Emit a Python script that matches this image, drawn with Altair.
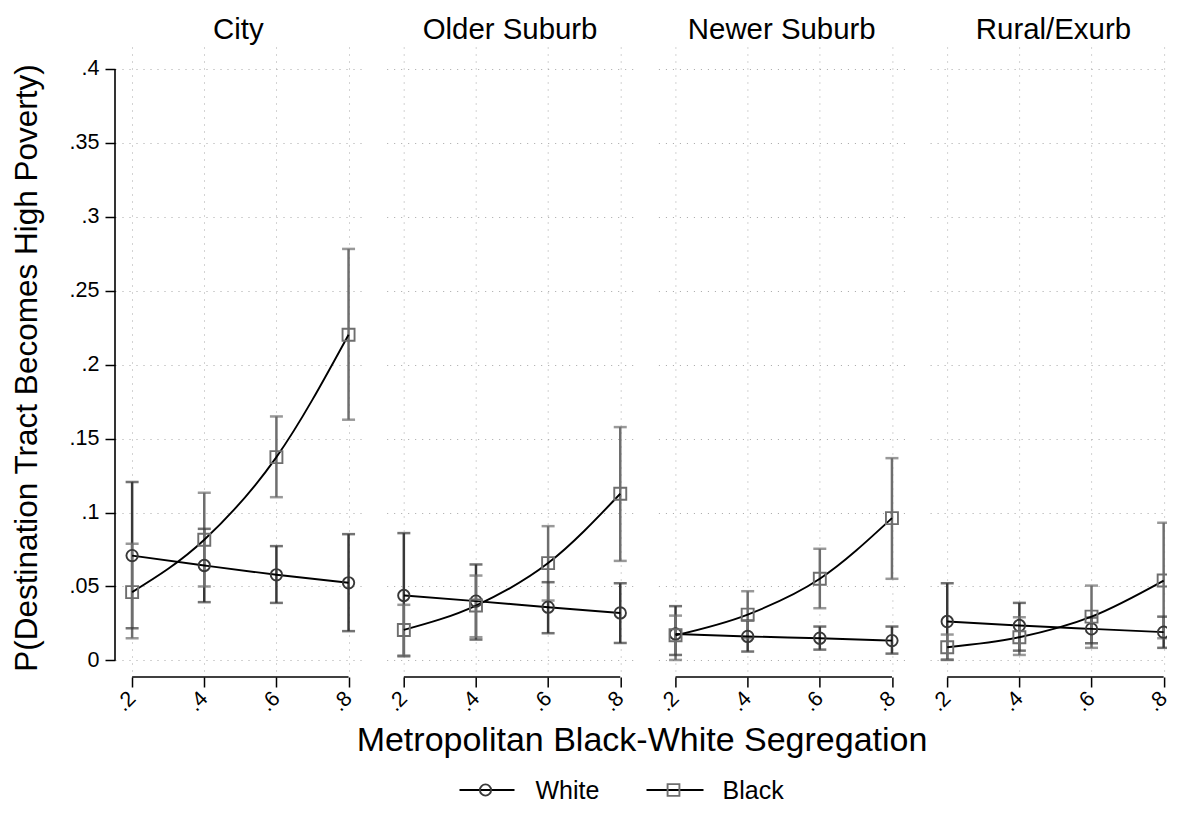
import altair as alt
import pandas as pd

categories = ["City", "Older Suburb", "Newer Suburb", "Rural/Exurb"]
segregation = [0.2, 0.4, 0.6, 0.8]
groups = ["White", "Black"]

white_est = [
    [0.0709, 0.0642, 0.0579, 0.0525],
    [0.0439, 0.0401, 0.0360, 0.0321],
    [0.0179, 0.0162, 0.0150, 0.0134],
    [0.0263, 0.0236, 0.0213, 0.0191],
]
white_lo = [
    [0.0218, 0.0394, 0.0389, 0.0198],
    [0.0028, 0.0141, 0.0184, 0.0118],
    [0.0037, 0.0060, 0.0073, 0.0046],
    [0.0005, 0.0066, 0.0116, 0.0085],
]
white_hi = [
    [0.1206, 0.0890, 0.0773, 0.0854],
    [0.0861, 0.0649, 0.0529, 0.0522],
    [0.0367, 0.0270, 0.0229, 0.0229],
    [0.0522, 0.0389, 0.0290, 0.0296],
]
black_est = [
    [0.0462, 0.0816, 0.1375, 0.2203],
    [0.0206, 0.0371, 0.0658, 0.1127],
    [0.0170, 0.0310, 0.0552, 0.0962],
    [0.0089, 0.0157, 0.0296, 0.0540],
]
black_lo = [
    [0.0150, 0.0500, 0.1104, 0.1628],
    [0.0033, 0.0157, 0.0405, 0.0673],
    [0.0003, 0.0150, 0.0353, 0.0552],
    [0.0003, 0.0037, 0.0085, 0.0150],
]
black_hi = [
    [0.0789, 0.1134, 0.1650, 0.2783],
    [0.0376, 0.0574, 0.0908, 0.1578],
    [0.0303, 0.0468, 0.0755, 0.1368],
    [0.0175, 0.0292, 0.0506, 0.0931],
]
y_ticks = [0, 0.05, 0.1, 0.15, 0.2, 0.25, 0.3, 0.35, 0.4]
x_ticks = [0.2, 0.4, 0.6, 0.8]
y_title = "P(Destination Tract Becomes High Poverty)"
x_title = "Metropolitan Black-White Segregation"

FONT = "Liberation Sans"
PX = 360.7
Y_DOM = [-0.01122, 0.41487]
H = 630
XL, XR, XR_LAST = 0.1525, 0.8365, 0.8139
LABEL_EXPR = "datum.value == 0 ? '0' : substring(format(datum.value, '.2~f'), 1)"
GRID = dict(grid=True, gridColor="#a6a6a6", gridDash=[1, 6], gridWidth=1)
COLORS = ["#383838", "#6e6e6e"]
TICK_FS = 21.5

rows = []
for ci, cat in enumerate(categories):
    for g, est, lo, hi in (("White", white_est, white_lo, white_hi),
                           ("Black", black_est, black_lo, black_hi)):
        for xi, s in enumerate(segregation):
            rows.append(dict(category=cat, group=g, seg=s,
                             est=est[ci][xi], lo=lo[ci][xi], hi=hi[ci][xi]))
df = pd.DataFrame(rows)

color = alt.Color("group:N", scale=alt.Scale(domain=groups, range=COLORS), legend=None)


def legend_layers():
    # shared x-axis title and legend, positioned relative to the first panel's plot origin
    out = []
    one = pd.DataFrame({"t": [x_title]})
    out.append(alt.Chart(one).mark_text(font=FONT, fontSize=34, align="center",
                                        baseline="alphabetic", color="black").encode(
        text="t:N", x=alt.value(527), y=alt.value(704)))
    specs = [(groups[0], "circle", 125, COLORS[0], 344.5, 399.5, 370.5, 420.5),
             (groups[1], "square", 140, COLORS[1], 531.5, 588.5, 558.5, 607.5)]
    for label, shp, sz, col, x1, x2, xm, xt in specs:
        d = pd.DataFrame({"label": [label]})
        out.append(alt.Chart(d).mark_rule(color="black", strokeWidth=1.9).encode(
            x=alt.value(x1), x2=alt.value(x2), y=alt.value(743)))
        out.append(alt.Chart(d).mark_point(shape=shp, filled=False, size=sz, color=col,
                                           strokeWidth=1.9, opacity=1).encode(
            x=alt.value(xm), y=alt.value(743)))
        out.append(alt.Chart(d).mark_text(font=FONT, fontSize=25, align="left",
                                          baseline="alphabetic", color="black").encode(
            text="label:N", x=alt.value(xt), y=alt.value(752)))
    return out


def panel(ci):
    first = ci == 0
    last = ci == len(categories) - 1
    xdom = [XL, XR_LAST if last else XR]
    width = (xdom[1] - xdom[0]) * PX
    xscale = alt.Scale(domain=xdom, nice=False, zero=False)
    yscale = alt.Scale(domain=Y_DOM, nice=False, zero=False)
    xaxis = alt.Axis(values=x_ticks, domain=False, ticks=True, tickSize=10,
                     tickWidth=1.5, tickColor="black", labelAngle=315,
                     labelAlign="right", labelBaseline="middle", labelPadding=8,
                     labelFontSize=TICK_FS, labelFont=FONT, labelColor="black",
                     labelExpr=LABEL_EXPR, labelFlush=False, labelOverlap=False,
                     title=None, **GRID)
    if first:
        yaxis = alt.Axis(values=y_ticks, domain=False, ticks=True, tickSize=10,
                         tickWidth=1.5, tickColor="black", labelFontSize=TICK_FS,
                         labelFont=FONT, labelColor="black", labelPadding=6,
                         labelExpr=LABEL_EXPR, labelFlush=False, labelOverlap=False,
                         title=y_title, titleFont=FONT, titleFontSize=31.5,
                         titleFontWeight="normal", titleColor="black",
                         titleX=-79, titleY=320.5, titleAngle=270,
                         titleAlign="center", titleBaseline="alphabetic", **GRID)
    else:
        yaxis = alt.Axis(values=y_ticks, domain=False, ticks=False, labels=False,
                         title=None, **GRID)

    def X(f):
        return alt.X(f, type="quantitative", scale=xscale, axis=xaxis)

    def Y(f):
        return alt.Y(f, type="quantitative", scale=yscale, axis=yaxis)

    base = alt.Chart(df).transform_filter(alt.datum.category == categories[ci])
    bars = base.mark_rule(strokeWidth=2.5).encode(x=X("seg"), y=Y("lo"), y2="hi", color=color)
    caps = base.transform_fold(["lo", "hi"], as_=["end", "val"]).mark_tick(
        orient="horizontal", size=13, thickness=2.5).encode(x=X("seg"), y=Y("val"), color=color)
    lines = base.mark_line(color="black", strokeWidth=1.9, interpolate="monotone").encode(
        x=X("seg"), y=Y("est"), detail="group:N")
    points = base.mark_point(filled=False, strokeWidth=1.9, opacity=1).encode(
        x=X("seg"), y=Y("est"), color=color,
        shape=alt.Shape("group:N", scale=alt.Scale(domain=groups, range=["circle", "square"]), legend=None),
        size=alt.Size("group:N", scale=alt.Scale(domain=groups, range=[130, 144]), legend=None))
    xline = alt.Chart(pd.DataFrame({"a": [x_ticks[0]], "b": [x_ticks[-1]]})).mark_rule(
        color="black", strokeWidth=1.6).encode(x=X("a"), x2="b", y=alt.value(H))
    head_x = (XR - XL) * PX / 2
    head = alt.Chart(pd.DataFrame({"t": [categories[ci]]})).mark_text(
        font=FONT, fontSize=29.4, align="center", baseline="alphabetic", color="black").encode(
        text="t:N", x=alt.value(head_x), y=alt.value(-8.5))
    layers = [bars, caps, lines, points, xline, head]
    if first:
        yline = alt.Chart(pd.DataFrame({"a": [y_ticks[0]], "b": [y_ticks[-1]]})).mark_rule(
            color="black", strokeWidth=1.6).encode(x=alt.value(0), y=Y("a"), y2="b")
        layers.append(yline)
        layers.extend(legend_layers())
    return alt.layer(*layers).properties(width=width, height=H)


chart = alt.hconcat(*[panel(i) for i in range(len(categories))], spacing=24.7,
                    bounds="flush").properties(
    padding={"left": 2, "top": 6, "right": -7, "bottom": 0},
    background="white",
).configure_view(stroke=None)

chart.save("out.html", embed_options={"renderer": "svg", "actions": False})
